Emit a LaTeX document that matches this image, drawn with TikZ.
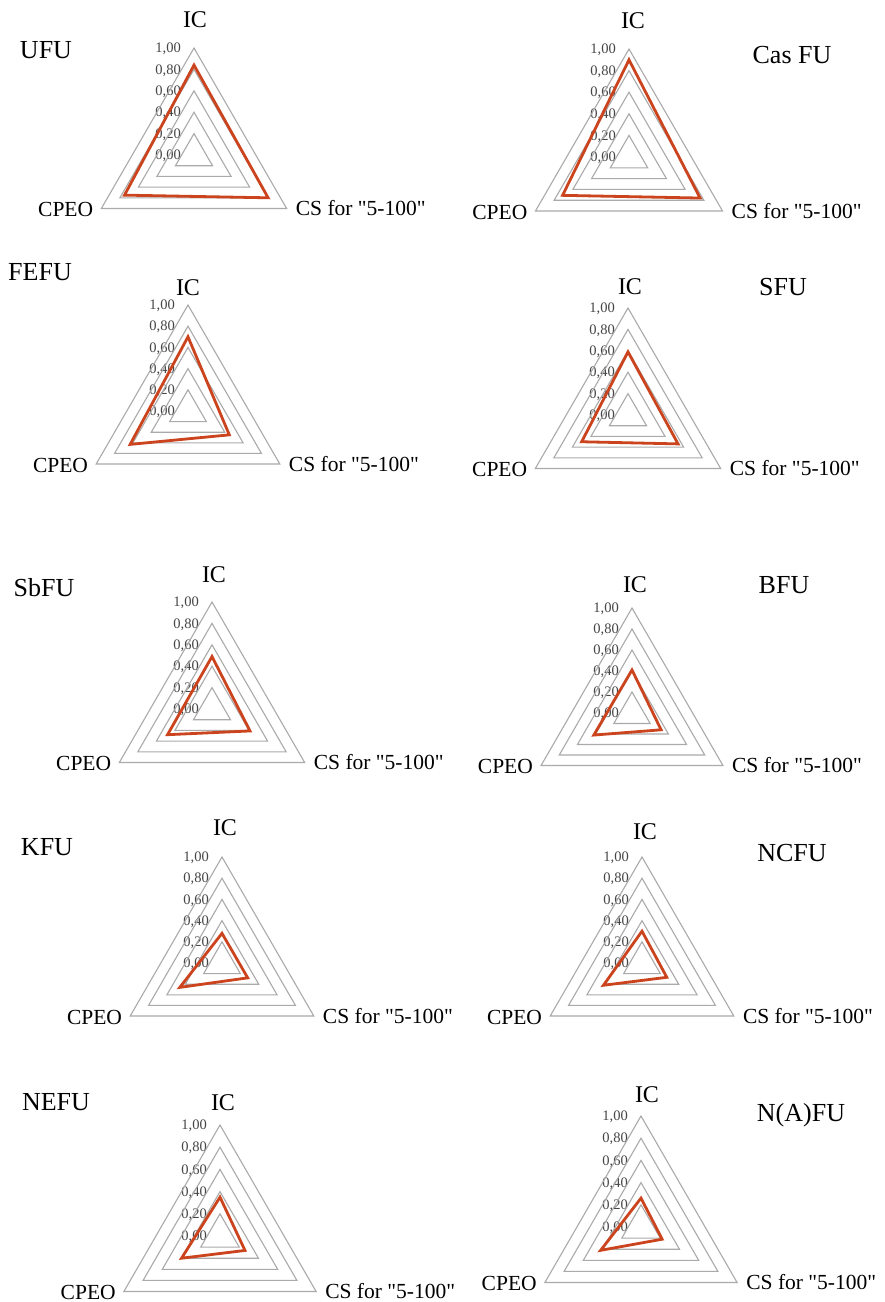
\documentclass[tikz,border=0pt]{standalone}
\usepackage{fontspec}
\setmainfont{Liberation Serif}[Ligatures=TeXOff]
\definecolor{gridgray}{RGB}{170,170,170}
\definecolor{datared}{RGB}{203,68,30}
\definecolor{tickgray}{RGB}{70,70,70}
\tikzset{
  gridline/.style={draw=gridgray, line width=1.1pt},
  dataline/.style={draw=datared, line width=2.8pt},
  ticklabel/.style={font=\fontsize{14.5}{14.5}\selectfont, text=tickgray, inner sep=0pt, anchor=east},
  axislabel/.style={font=\fontsize{21.5}{21.5}\selectfont, inner sep=0pt},
  iclabel/.style={font=\fontsize{24}{24}\selectfont, inner sep=0pt},
  titlelabel/.style={font=\fontsize{26}{26}\selectfont, inner sep=0pt},
}
% #1 name, #2 cx, #3 cy, #4 R, #5 IC, #6 CS, #7 CPEO
\newcommand\radarchart[7]{%
  \begin{scope}[shift={(#2,#3)}]
    \foreach \v/\t [count=\i] in {0/{0,00},0.2/{0,20},0.4/{0,40},0.6/{0,60},0.8/{0,80},1.0/{1,00}}{%
      \node[ticklabel] (#1-tick\i) at (-13,{-#4*\v+1}) {\t};
    }
    \foreach \v in {0.2,0.4,0.6,0.8,1.0}{%
      \draw[gridline] (0,{-#4*\v}) -- ({0.866*#4*\v},{0.5*#4*\v}) -- ({-0.866*#4*\v},{0.5*#4*\v}) -- cycle;
    }
    \coordinate (#1-dic) at (0,{-#4*#5});
    \coordinate (#1-dcs) at ({0.866*#4*#6},{0.5*#4*#6});
    \coordinate (#1-dcp) at ({-0.866*#4*#7},{0.5*#4*#7});
    \draw[dataline] (#1-dic) -- (#1-dcs) -- (#1-dcp) -- cycle;
    \node[axislabel, anchor=east] (#1-cpeo) at ({-0.866*#4-8},{0.5*#4+1}) {CPEO};
    \node[axislabel, anchor=west] (#1-cs) at ({0.866*#4+9},{0.5*#4}) {CS for "5-100"};
  \end{scope}%
}
\begin{document}
\begin{tikzpicture}[x=1pt, y=-1pt]
  \useasboundingbox[fill=white] (0,0) rectangle (885,1302);
  % row 1
  \radarchart{ufu}{194}{155}{107}{0.84}{0.80}{0.75}
  \node[iclabel] (ufu-ic) at (195,20) {IC};
  \node[titlelabel] (ufu-title) at (46,50) {UFU};
  \radarchart{cas}{629}{157}{108}{0.90}{0.76}{0.71}
  \node[iclabel] (cas-ic) at (633,21) {IC};
  \node[titlelabel] (cas-title) at (792,55) {Cas FU};
  % row 2
  \radarchart{fefu}{188}{411}{106}{0.70}{0.45}{0.63}
  \node[iclabel] (fefu-ic) at (188,288) {IC};
  \node[titlelabel] (fefu-title) at (40,272) {FEFU};
  \radarchart{sfu}{628}{415}{107}{0.59}{0.54}{0.50}
  \node[iclabel] (sfu-ic) at (630,287) {IC};
  \node[titlelabel] (sfu-title) at (783,287) {SFU};
  % row 3
  \radarchart{sbfu}{212}{709}{107}{0.49}{0.41}{0.48}
  \node[iclabel] (sbfu-ic) at (214,575) {IC};
  \node[titlelabel] (sbfu-title) at (44,588) {SbFU};
  \radarchart{bfu}{632}{713}{105}{0.41}{0.32}{0.42}
  \node[iclabel] (bfu-ic) at (635,585) {IC};
  \node[titlelabel] (bfu-title) at (784,585) {BFU};
  % row 4
  \radarchart{kfu}{222}{963}{106}{0.28}{0.28}{0.46}
  \node[iclabel] (kfu-ic) at (225,828) {IC};
  \node[titlelabel] (kfu-title) at (47,847) {KFU};
  \radarchart{ncfu}{642}{963}{106}{0.30}{0.27}{0.42}
  \node[iclabel] (ncfu-ic) at (645,832) {IC};
  \node[titlelabel] (ncfu-title) at (792,853) {NCFU};
  % row 5
  \radarchart{nefu}{220}{1236}{111}{0.35}{0.26}{0.40}
  \node[iclabel] (nefu-ic) at (223,1103) {IC};
  \node[titlelabel] (nefu-title) at (56,1102) {NEFU};
  \radarchart{nafu}{641}{1227}{111}{0.26}{0.22}{0.42}
  \node[iclabel] (nafu-ic) at (647,1095) {IC};
  \node[titlelabel] (nafu-title) at (801,1115) {N(A)FU};
\end{tikzpicture}
\end{document}
